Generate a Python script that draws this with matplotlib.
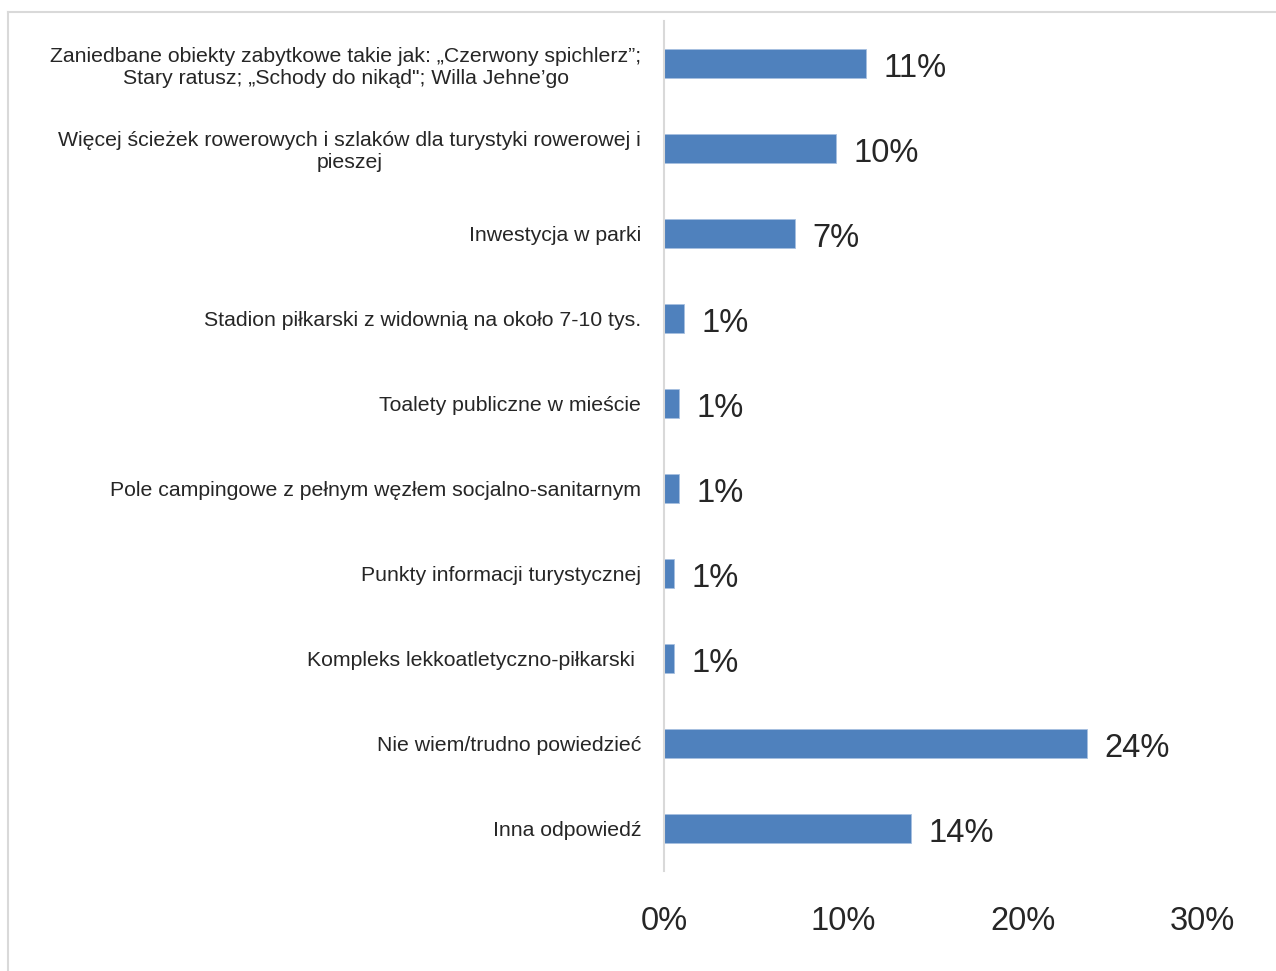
import numpy as np
import matplotlib.pyplot as plt
from matplotlib.lines import Line2D

categories = [
    'Zaniedbane obiekty zabytkowe takie jak: \u201eCzerwony spichlerz\u201d;\nStary ratusz; \u201eSchody do nik\u0105d"; Willa Jehne\u2019go',
    'Wi\u0119cej \u015bcie\u017cek rowerowych i szlak\u00f3w dla turystyki rowerowej i\npieszej',
    'Inwestycja w parki',
    'Stadion pi\u0142karski z widowni\u0105 na oko\u0142o 7-10 tys.',
    'Toalety publiczne w mie\u015bcie',
    'Pole campingowe z pe\u0142nym w\u0119z\u0142em socjalno-sanitarnym',
    'Punkty informacji turystycznej',
    'Kompleks lekkoatletyczno-pi\u0142karski ',
    'Nie wiem/trudno powiedzie\u0107',
    'Inna odpowied\u017a',
]
values = [11.27, 9.6, 7.3, 1.1, 0.85, 0.85, 0.55, 0.55, 23.6, 13.8]
labels = ['11%', '10%', '7%', '1%', '1%', '1%', '1%', '1%', '24%', '14%']
xticks = [0, 10, 20, 30]
xticklabels = ['0%', '10%', '20%', '30%']

plt.rcParams['font.family'] = ['Liberation Sans', 'DejaVu Sans']
txt = '#262626'

fig = plt.figure(figsize=(12.76, 9.71), dpi=100)
ax = fig.add_axes([664 / 1276, 100 / 971, 538 / 1276, 850 / 971])

y = np.arange(len(categories))
ax.barh(y, values, height=0.35, color='#4F81BD', edgecolor='#A7C0E0', linewidth=0.6)
for yi, v, lab in zip(y, values, labels):
    ax.annotate(lab, xy=(v, yi), xytext=(12.5, -3.5), textcoords='offset points',
                ha='left', va='center', fontsize=23.5, color=txt)

ax.set_ylim(len(categories) - 0.5, -0.5)
ax.set_xlim(0, 30)
ax.set_yticks(y)
ax.set_yticklabels(categories, fontsize=15.3, color=txt, multialignment='center')
ax.set_xticks(xticks)
ax.set_xticklabels(xticklabels, fontsize=23.5, color=txt)
ax.tick_params(axis='y', length=0, pad=16.5)
ax.tick_params(axis='x', length=0, pad=25)

for s in ['top', 'right', 'bottom']:
    ax.spines[s].set_visible(False)
ax.spines['left'].set_color('#D9D9D9')
ax.spines['left'].set_linewidth(1.5)

# outer frame (top and left only visible)
fig.add_artist(Line2D([8 / 1276, 1.0], [1 - 12 / 971, 1 - 12 / 971], color='#D9D9D9', lw=1.5))
fig.add_artist(Line2D([8 / 1276, 8 / 1276], [0.0, 1 - 12 / 971], color='#D9D9D9', lw=1.5))

fig.savefig('out.png', dpi=100, facecolor='white')
